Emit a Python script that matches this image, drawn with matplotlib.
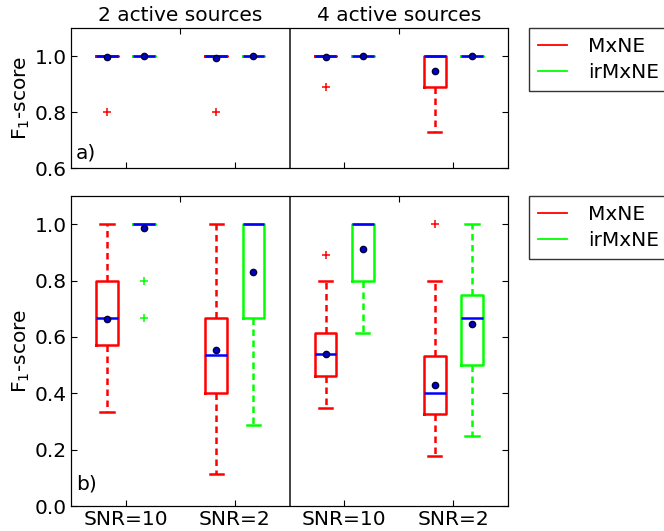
import matplotlib
matplotlib.use("Agg")
import matplotlib.pyplot as plt
from matplotlib.lines import Line2D

# ---- data ----
group_titles = ["2 active sources", "4 active sources"]
snr_labels = ["SNR=10", "SNR=2", "SNR=10", "SNR=2"]
methods = ["MxNE", "irMxNE"]

# panel a) : per SNR slot [whislo, q1, med, q3, whishi], mean, fliers
a_mxne_stats = [[1.0, 1.0, 1.0, 1.0, 1.0], [1.0, 1.0, 1.0, 1.0, 1.0],
                [1.0, 1.0, 1.0, 1.0, 1.0], [0.727, 0.889, 1.0, 1.0, 1.0]]
a_mxne_means = [0.995, 0.992, 0.995, 0.946]
a_mxne_fliers = [[0.8], [0.8], [0.889], []]
a_ir_stats = [[1.0, 1.0, 1.0, 1.0, 1.0], [1.0, 1.0, 1.0, 1.0, 1.0],
              [1.0, 1.0, 1.0, 1.0, 1.0], [1.0, 1.0, 1.0, 1.0, 1.0]]
a_ir_means = [1.0, 1.0, 1.0, 1.0]
a_ir_fliers = [[], [], [], []]

# panel b)
b_mxne_stats = [[0.333, 0.571, 0.667, 0.8, 1.0], [0.113, 0.4, 0.535, 0.667, 1.0],
                [0.346, 0.46, 0.538, 0.615, 0.8], [0.176, 0.327, 0.4, 0.533, 0.8]]
b_mxne_means = [0.662, 0.553, 0.541, 0.429]
b_mxne_fliers = [[], [], [0.889], [1.0]]
b_ir_stats = [[1.0, 1.0, 1.0, 1.0, 1.0], [0.286, 0.667, 1.0, 1.0, 1.0],
              [0.615, 0.8, 1.0, 1.0, 1.0], [0.25, 0.5, 0.667, 0.75, 1.0]]
b_ir_means = [0.985, 0.829, 0.912, 0.645]
b_ir_fliers = [[0.8, 0.667], [], [], []]

FS = 14.5
plt.rcParams['font.family'] = ['DejaVu Sans']
plt.rcParams['mathtext.fontset'] = 'dejavusans'

fig = plt.figure(figsize=(6.64, 5.31), dpi=100)
ax_a = fig.add_axes([71/664, 1-168/531, 437/664, 140/531])
ax_b = fig.add_axes([71/664, 1-506/531, 437/664, 310/531])

RED = '#ff0000'
GREEN = '#00ff00'
LW = 1.8


def make_stats(stats, means, fliers):
    out = []
    for s, m, f in zip(stats, means, fliers):
        out.append(dict(whislo=s[0], q1=s[1], med=s[2], q3=s[3], whishi=s[4],
                        mean=m, fliers=f))
    return out


def draw(ax, mstats, mmeans, mfl, istats, imeans, ifl, ylim, yticks, panel, show_x, show_titles):
    base = [1, 2, 3, 4]
    for stats, means, fl, col, off in [(mstats, mmeans, mfl, RED, -0.17),
                                       (istats, imeans, ifl, GREEN, 0.17)]:
        bs = make_stats(stats, means, fl)
        ax.bxp(bs, positions=[b + off for b in base], widths=0.2, capwidths=0.12,
               showmeans=True, manage_ticks=False,
               boxprops=dict(color=col, lw=LW),
               whiskerprops=dict(color=col, lw=LW, ls=(0, (2.6, 1.8))),
               capprops=dict(color=col, lw=LW),
               medianprops=dict(color='#0000ff', lw=LW),
               meanprops=dict(marker='o', markerfacecolor='#0000cc', markeredgecolor='#000033',
                              markersize=4.5, ls='none'),
               flierprops=dict(marker='+', markeredgecolor=col, markersize=5.5, mew=1.1, ls='none'))
    ax.axvline(2.5, color='#222222', lw=1.2)
    ax.set_xlim(0.5, 4.5)
    ax.set_ylim(*ylim)
    ax.set_yticks(yticks)
    ax.set_yticklabels(["%.1f" % v for v in yticks], fontsize=FS)
    ax.set_xticks(base)
    if show_x:
        ax.set_xticklabels(snr_labels, fontsize=FS)
    else:
        ax.set_xticklabels([])
    ax.tick_params(direction='in', length=4, top=False, right=True, pad=3)
    ax.set_ylabel("F$_1$-score", fontsize=FS, labelpad=2)
    ax.text(0.012, 0.04, panel, transform=ax.transAxes, fontsize=FS, ha='left', va='bottom')
    tw = ax.twiny()
    tw.set_xlim(0.5, 4.5)
    tw.set_xticks([1.5, 3.5])
    if show_titles:
        tw.set_xticklabels(group_titles, fontsize=FS)
    else:
        tw.set_xticklabels([])
    tw.tick_params(direction='in', length=4, pad=2)
    handles = [Line2D([], [], color=RED, lw=1.3), Line2D([], [], color=GREEN, lw=1.3)]
    leg = ax.legend(handles, methods, loc='upper left', bbox_to_anchor=(1.048, 1.0),
                    borderaxespad=0, fontsize=FS, fancybox=False, frameon=True,
                    handlelength=1.45, handletextpad=1.05, borderpad=0.45,
                    labelspacing=0.35)
    leg.get_frame().set_edgecolor('black')
    leg.get_frame().set_linewidth(1.0)


draw(ax_a, a_mxne_stats, a_mxne_means, a_mxne_fliers, a_ir_stats, a_ir_means, a_ir_fliers,
     (0.6, 1.1), [0.6, 0.8, 1.0], "a)", False, True)
draw(ax_b, b_mxne_stats, b_mxne_means, b_mxne_fliers, b_ir_stats, b_ir_means, b_ir_fliers,
     (0.0, 1.1), [0.0, 0.2, 0.4, 0.6, 0.8, 1.0], "b)", True, False)

fig.savefig("out.png", dpi=100)
